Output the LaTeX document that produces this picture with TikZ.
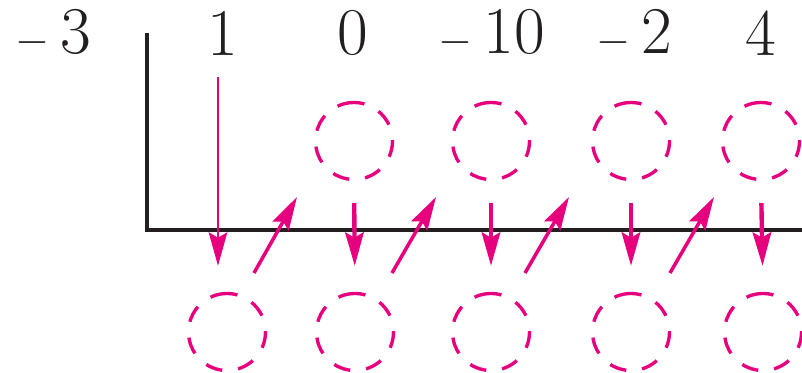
\documentclass[tikz,border=0pt]{standalone}
\usetikzlibrary{arrows.meta}

\definecolor{synmag}{RGB}{230,0,126}
\definecolor{synblack}{RGB}{35,31,32}

\begin{document}
\begin{tikzpicture}[coef node/.style={inner sep=0pt, text=synblack, font=\fontsize{38}{44}\selectfont},
    slot node/.style={circle, rotate=90, draw=synmag, line width=1.9pt, dash pattern=on 9.7pt off 9.1pt, minimum size=1.54cm, inner sep=0pt},
    bar line/.style={draw=synblack, line width=2.2pt},
    down arrow/.style={draw=synmag, line width=2.5pt, -{Stealth[length=19pt, width=10.5pt, inset=3pt]}, shorten <=0.44cm, shorten >=0.52cm},
    up arrow/.style={draw=synmag, line width=2pt, -{Stealth[length=19pt, width=10.5pt, inset=3pt]}}]
    \useasboundingbox (0,0) rectangle (16.04,7.44);

    \node[coef node] (root) at (1.06,6.78) {$-$\,3};

    \node[coef node] (aone) at (4.46,6.78) {1};
    \node[coef node] (atwo) at (7.06,6.78) {0};
    \node[coef node] (athree) at (9.84,6.78) {$-$\,10};
    \node[coef node] (afour) at (12.68,6.78) {$-$\,2};
    \node[coef node] (afive) at (15.22,6.78) {4};

    \coordinate (bartop) at (2.94,6.78);
    \coordinate (barend) at (16.04,2.84);
    \draw[bar line] (bartop) |- (barend);

    \node[slot node] (ttwo) at (7.08,4.62) {};
    \node[slot node] (tthree) at (9.82,4.62) {};
    \node[slot node] (tfour) at (12.62,4.62) {};
    \node[slot node] (tfive) at (15.22,4.62) {};

    \node[slot node] (bone) at (4.54,0.8) {};
    \node[slot node] (btwo) at (7.10,0.8) {};
    \node[slot node] (bthree) at (9.82,0.8) {};
    \node[slot node] (bfour) at (12.62,0.8) {};
    \node[slot node] (bfive) at (15.26,0.8) {};

    \coordinate (uone) at (5.08,1.98);
    \coordinate (utwo) at (7.84,1.98);
    \coordinate (uthree) at (10.50,1.98);
    \coordinate (ufour) at (13.40,1.98);
    \coordinate (vtwo) at (5.94,3.50);
    \coordinate (vthree) at (8.72,3.50);
    \coordinate (vfour) at (11.38,3.50);
    \coordinate (vfive) at (14.28,3.50);

    % bring down the leading coefficient
    \draw[down arrow, line width=1.7pt] ([xshift=-0.1cm]aone.south) -- ([xshift=-0.1cm]aone.south |- bone.east);

    \draw[down arrow] (ttwo.west) -- (btwo.east);
    \draw[down arrow] (tthree.west) -- (bthree.east);
    \draw[down arrow] (tfour.west) -- (bfour.east);
    \draw[down arrow] (tfive.west) -- (bfive.east);

    % multiply by the root
    \draw[up arrow] (uone) -- (vtwo);
    \draw[up arrow] (utwo) -- (vthree);
    \draw[up arrow] (uthree) -- (vfour);
    \draw[up arrow] (ufour) -- (vfive);
\end{tikzpicture}
\end{document}
